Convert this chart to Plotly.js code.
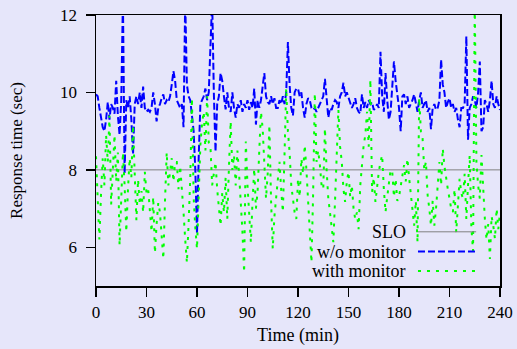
<!DOCTYPE html>
<html>
<head>
<meta charset="utf-8">
<script src="https://cdn.plot.ly/plotly-3.0.1.min.js"></script>
<style>html,body{margin:0;padding:0;background:#e6e6fa;}#chart{width:517px;height:349px;}</style>
</head>
<body>
<div id="chart"></div>
<script>
// Time in minutes (one sample per minute, 0..240)
const minutes = [];
for (let i = 0; i <= 240; i++) minutes.push(i);

const sloValue = 8;
const sloX = [0, 240];

// Response time without monitor (sec)
const withoutMonitor = [
 9.95, 9.9, 9.6, 9.3, 9.1, 9.0, 9.3, 9.75, 9.3, 9.7,
 9.6, 9.45, 10.3, 9.4, 8.9, 9.8, 12.4, 7.9, 9.8, 9.6,
 9.9, 9.3, 8.4, 9.7, 9.9, 9.7, 10.0, 9.6, 10.15, 9.6,
 9.5, 9.55, 9.5, 9.6, 10.0, 9.7, 9.25, 9.6, 9.7, 9.85,
 9.95, 9.7, 9.8, 9.75, 9.9, 10.2, 10.55, 10.3, 9.8, 9.7,
 9.6, 9.7, 9.1, 12.4, 10.2, 9.9, 9.8, 9.4, 9.0, 8.0,
 6.35, 8.3, 9.7, 9.8, 9.9, 10.1, 9.8, 10.0, 11.3, 12.4,
 10.0, 8.47, 9.7, 9.9, 10.5, 10.3, 9.9, 9.56, 10.0, 9.6,
 9.5, 10.0, 9.6, 9.35, 9.7, 9.6, 9.8, 9.5, 9.7, 9.6,
 9.8, 9.55, 9.75, 9.6, 10.1, 9.17, 9.8, 9.6, 9.8, 10.1,
 10.5, 9.9, 9.75, 9.7, 9.9, 9.7, 9.85, 9.6, 9.6, 9.8,
 9.7, 9.9, 9.7, 10.0, 11.3, 10.2, 9.6, 9.4, 10.0, 10.1,
 10.1, 9.9, 10.0, 9.6, 9.35, 9.7, 9.85, 9.8, 9.6, 9.55,
 9.6, 9.5, 9.6, 9.7, 9.8, 9.9, 10.35, 9.8, 9.35, 9.6,
 9.55, 9.7, 9.8, 9.75, 9.6, 9.9, 10.0, 10.25, 9.9, 10.0,
 9.85, 9.7, 9.6, 9.7, 9.85, 9.6, 9.5, 9.45, 9.95, 9.6,
 9.75, 9.6, 9.8, 9.7, 9.75, 9.55, 9.6, 9.7, 9.6, 11.05,
 9.9, 9.5, 10.5, 9.8, 9.3, 9.5, 10.2, 10.8, 10.3, 10.0,
 9.6, 9.0, 9.9, 9.95, 9.7, 9.9, 9.6, 9.7, 9.8, 9.95,
 9.7, 9.5, 9.8, 10.0, 9.6, 9.7, 9.8, 9.5, 9.6, 9.05,
 9.6, 9.7, 9.55, 9.6, 9.8, 10.85, 10.2, 10.0, 9.6, 9.75,
 9.85, 9.6, 9.7, 9.5, 9.6, 9.3, 9.1, 9.6, 9.6, 9.7,
 11.45, 8.78, 9.6, 9.7, 9.9, 9.8, 9.6, 10.0, 10.8, 9.0,
 9.1, 9.8, 9.7, 9.5, 9.8, 10.3, 9.7, 9.6, 9.9, 9.7,
 9.55
];

// Response time with monitor (sec)
const withMonitor = [
 8.35, 7.0, 6.2, 7.4, 8.3, 7.6, 8.9, 8.2, 9.4, 7.1,
 8.0, 8.9, 7.7, 8.45, 6.05, 7.3, 8.45, 7.6, 6.4, 7.5,
 8.3, 7.8, 9.15, 7.9, 6.7, 7.75, 7.1, 7.45, 6.9, 7.95,
 7.4, 7.5, 6.9, 6.4, 7.3, 5.85, 6.6, 7.15, 6.9, 6.3,
 5.7, 7.2, 8.45, 7.6, 7.95, 8.3, 7.7, 8.2, 8.2, 7.5,
 8.1, 7.6, 6.9, 6.2, 5.6, 6.6, 7.8, 9.85, 7.3, 6.5,
 5.96, 7.3, 8.64, 9.2, 9.5, 8.5, 9.9, 8.7, 8.6, 7.6,
 7.95, 8.2, 7.5, 6.9, 6.56, 7.4, 6.9, 7.8, 6.73, 8.1,
 9.25, 8.0, 8.38, 7.6, 8.5, 7.9, 7.26, 6.4, 5.35, 8.73,
 7.6, 6.91, 6.13, 7.2, 8.03, 7.0, 7.43, 8.5, 9.5, 9.07,
 8.1, 7.26, 7.9, 9.16, 7.2, 5.96, 6.8, 7.26, 7.8, 8.21,
 7.5, 6.91, 8.4, 10.11, 9.0, 8.47, 7.6, 7.26, 6.9, 6.73,
 7.77, 7.3, 8.29, 7.9, 8.64, 8.0, 7.17, 6.5, 5.61, 7.4,
 9.98, 8.21, 8.5, 8.12, 7.6, 7.5, 9.07, 8.0, 7.26, 6.9,
 6.47, 6.13, 7.2, 8.64, 9.55, 8.6, 8.21, 7.5, 7.17, 7.7,
 7.95, 7.3, 7.6, 7.0, 6.73, 6.9, 6.47, 7.6, 8.1, 8.64,
 8.9, 9.5, 8.6, 10.33, 7.43, 7.8, 7.17, 7.6, 7.95, 8.2,
 8.38, 7.5, 6.91, 7.3, 7.6, 8.0, 7.95, 7.3, 7.77, 7.2,
 7.3, 7.6, 7.9, 8.12, 7.7, 8.29, 7.8, 7.35, 6.9, 6.56,
 7.2, 6.13, 9.86, 9.0, 8.82, 8.0, 8.21, 7.35, 7.0, 6.56,
 7.2, 6.56, 7.0, 7.77, 8.2, 7.6, 8.55, 8.1, 7.77, 7.5,
 7.26, 7.0, 6.91, 7.5, 6.39, 7.1, 7.77, 7.4, 7.26, 7.9,
 6.73, 7.6, 8.38, 6.5, 5.9, 12.3, 8.21, 7.6, 7.26, 8.38,
 7.4, 6.73, 6.2, 6.6, 5.7, 6.8, 6.56, 6.22, 7.0, 6.47,
 6.9
];

const xTicks = [0, 30, 60, 90, 120, 150, 180, 210, 240];
const yTicks = [6, 8, 10, 12];
const seriesNames = ['SLO', 'w/o monitor', 'with monitor'];

const FONT = '"Liberation Serif", "DejaVu Serif", Times, serif';
const colSLO = '#808080', colBlue = '#0000ff', colGreen = '#00ff00';
const dashBlue = '7px,3px', dashGreen = '3px,6px';

const traces = [
  { x: sloX, y: [sloValue, sloValue], mode: 'lines', name: seriesNames[0],
    line: { color: colSLO, width: 1 } },
  { x: minutes, y: withoutMonitor, mode: 'lines', name: seriesNames[1],
    line: { color: colBlue, width: 2, dash: dashBlue } },
  { x: minutes, y: withMonitor, mode: 'lines', name: seriesNames[2],
    line: { color: colGreen, width: 2, dash: dashGreen } }
];

// custom legend (text on the left, sample line on the right)
const legY = [0.2, 0.127, 0.055];
const legCol = [colSLO, colBlue, colGreen];
const legDash = ['solid', dashBlue, dashGreen];
const legW = [1, 2, 2];
const annotations = seriesNames.map((n, i) => ({
  text: n, xref: 'paper', yref: 'paper', x: 0.769, y: legY[i],
  xanchor: 'right', yanchor: 'middle', showarrow: false, borderpad: 0,
  font: { family: FONT, size: 18, color: '#000' }
}));
const shapes = seriesNames.map((n, i) => ({
  type: 'line', xref: 'paper', yref: 'paper',
  x0: 0.797, x1: 0.941, y0: legY[i], y1: legY[i],
  line: { color: legCol[i], width: legW[i], dash: legDash[i] }
}));

const axisCommon = {
  showgrid: false, zeroline: false, showline: true, linecolor: '#000', linewidth: 1.5,
  mirror: true, ticks: 'outside', ticklen: 9, tickwidth: 1.5, tickcolor: '#000',
  tickfont: { family: FONT, size: 17, color: '#000' }
};

const layout = {
  width: 517, height: 349,
  margin: { l: 96, r: 17, t: 15, b: 63 },
  paper_bgcolor: '#e6e6fa', plot_bgcolor: '#e6e6fa',
  showlegend: false,
  font: { family: FONT, size: 17, color: '#000' },
  xaxis: Object.assign({}, axisCommon, {
    range: [0, 240], tickvals: xTicks, ticklabelstandoff: 1,
    title: { text: 'Time (min)', font: { family: FONT, size: 18, color: '#000' }, standoff: 7 }
  }),
  yaxis: Object.assign({}, axisCommon, {
    range: [5, 12], tickvals: yTicks, ticklabelstandoff: 5,
    title: { text: 'Response time (sec)', font: { family: FONT, size: 17, color: '#000' }, standoff: 33 }
  }),
  annotations: annotations,
  shapes: shapes
};

Plotly.newPlot('chart', traces, layout, { displayModeBar: false, staticPlot: true });
</script>
</body>
</html>
